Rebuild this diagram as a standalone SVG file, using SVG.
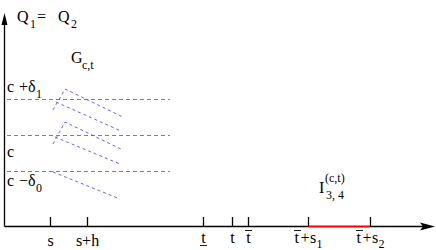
<svg xmlns="http://www.w3.org/2000/svg" width="436" height="250" viewBox="0 0 436 250">
<style>
text{font-family:"Liberation Serif","Times New Roman",serif;font-size:16px;fill:#000}
.sub{font-size:12px}
.ax{stroke:#000;stroke-width:1.3;fill:none}
.tick{stroke:#000;stroke-width:1.3}
.lvl{stroke:#808080;stroke-width:1;stroke-dasharray:4 3;fill:none}
.bl{stroke:#4f4fff;stroke-width:0.9;stroke-dasharray:3 3;fill:none}
.bar{stroke:#000;stroke-width:0.9}
</style>
<rect width="436" height="250" fill="#fff"/>
<g id="axes">
<line class="ax" x1="4.5" y1="226.5" x2="4.5" y2="22"/>
<polygon points="4.5,13 1.5,25 7.5,25" fill="#000"/>
<line class="ax" x1="4.5" y1="226.5" x2="424" y2="226.5"/>
<polygon points="435,226.5 420,222.5 423,226.5 420,230.5" fill="#000"/>
<line x1="308" y1="226.5" x2="370" y2="226.5" stroke="#ff0000" stroke-width="1.6"/>
</g>
<g id="ticks">
<line class="tick" x1="50.5" y1="217" x2="50.5" y2="226"/>
<line class="tick" x1="87.5" y1="217" x2="87.5" y2="226"/>
<line class="tick" x1="203.5" y1="217" x2="203.5" y2="226"/>
<line class="tick" x1="232.5" y1="217" x2="232.5" y2="226"/>
<line class="tick" x1="248.5" y1="217" x2="248.5" y2="226"/>
<line class="tick" x1="308.5" y1="217" x2="308.5" y2="226"/>
<line class="tick" x1="370.5" y1="217" x2="370.5" y2="226"/>
</g>
<g id="levels">
<line class="lvl" x1="7" y1="99.5" x2="170" y2="99.5"/>
<line class="lvl" x1="7" y1="135.5" x2="170" y2="135.5"/>
<line class="lvl" x1="7" y1="171.5" x2="170" y2="171.5"/>
</g>
<g id="connectors">
<polyline class="bl" points="53,110 65,89 123,117"/>
<line class="bl" x1="56" y1="102" x2="121" y2="131"/>
<polyline class="bl" points="53,144 65,122 123,150"/>
<line class="bl" x1="55" y1="137" x2="120" y2="164"/>
<line class="bl" x1="53" y1="172" x2="120" y2="199"/>
</g>
<g id="title">
<text x="17" y="22">Q</text>
<text class="sub" x="30" y="28">1</text>
<text x="37" y="22">=</text>
<text x="58" y="22">Q</text>
<text class="sub" x="71" y="28">2</text>
</g>
<g id="G">
<text x="71" y="63">G</text>
<text class="sub" x="82" y="69">c,t</text>
</g>
<g id="ylabels">
<text x="7" y="92">c</text>
<text x="19" y="92">+δ</text>
<text class="sub" x="36" y="98">1</text>
<text x="7" y="157">c</text>
<text x="7" y="186">c</text>
<text x="19" y="186">−δ</text>
<text class="sub" x="36" y="192">0</text>
</g>
<g id="xlabels">
<text x="50.5" y="246" text-anchor="middle">s</text>
<text x="87.5" y="246" text-anchor="middle">s+h</text>
<text x="203.5" y="243" text-anchor="middle">t</text>
<line class="bar" x1="200" y1="245.5" x2="207" y2="245.5"/>
<text x="232.5" y="243" text-anchor="middle">t</text>
<text x="248.5" y="243" text-anchor="middle">t</text>
<line class="bar" x1="245" y1="230.5" x2="252" y2="230.5"/>
<text x="294.5" y="243">t</text>
<text x="300.5" y="243">+</text>
<text x="310" y="243">s</text>
<text class="sub" x="316.5" y="247.5">1</text>
<line class="bar" x1="294" y1="230.5" x2="301" y2="230.5"/>
<text x="356.5" y="243">t</text>
<text x="362.5" y="243">+</text>
<text x="372" y="243">s</text>
<text class="sub" x="378.5" y="247.5">2</text>
<line class="bar" x1="356" y1="230.5" x2="363" y2="230.5"/>
</g>
<g id="I">
<text x="319" y="193">I</text>
<text class="sub" x="325" y="182">(c,t)</text>
<text class="sub" x="326" y="199">3, 4</text>
</g>
</svg>
